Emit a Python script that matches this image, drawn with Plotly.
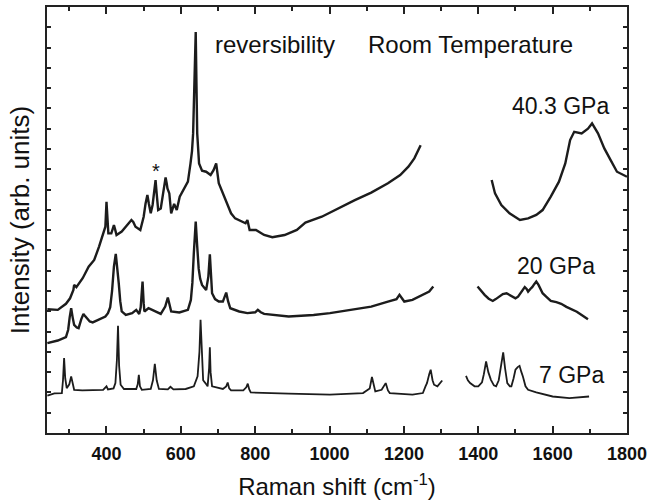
import plotly.graph_objects as go

# ---- 7 GPa spectrum (two segments) ----
x7a = [241, 260, 280, 283, 286, 289, 293, 300, 305, 309, 313, 335, 391, 400, 404, 419, 424, 428,
       431, 434, 438, 447, 480, 484, 487, 490, 495, 519, 525, 530, 535, 541, 565, 572, 580, 613,
       635, 645, 650, 653, 656, 660, 666, 672, 676, 678, 680, 684, 713, 722, 726, 730, 735, 768,
       776, 780, 784, 788, 890, 1001, 1090, 1108, 1114, 1119, 1123, 1140, 1151, 1157, 1162,
       1223, 1251, 1258, 1262, 1268, 1272, 1277, 1281, 1290, 1297, 1303]
y7a = [1.84, 1.95, 1.97, 2.60, 3.69, 2.70, 2.21, 2.40, 2.79, 2.40, 2.13, 2.10, 2.13, 2.30, 2.15,
       2.20, 2.46, 3.60, 5.28, 3.30, 2.38, 2.17, 2.17, 2.40, 2.87, 2.30, 2.13, 2.17, 2.60, 3.41,
       2.60, 2.17, 2.15, 2.28, 2.15, 2.17, 2.30, 2.80, 4.00, 5.58, 3.80, 2.60, 2.46, 2.30, 3.20,
       4.22, 3.00, 2.30, 2.17, 2.30, 2.49, 2.20, 2.10, 2.10, 2.25, 2.43, 2.15, 2.00, 1.94, 1.89,
       1.97, 2.20, 2.76, 2.25, 2.05, 2.13, 2.46, 2.10, 1.97, 1.89, 1.97, 2.30, 2.46, 2.90, 3.12,
       2.60, 2.38, 2.30, 2.45, 2.59]
x7b = [1367, 1372, 1378, 1390, 1400, 1410, 1415, 1421, 1427, 1434, 1442, 1448, 1455, 1461, 1467,
       1472, 1478, 1485, 1489, 1495, 1500, 1506, 1511, 1516, 1520, 1527, 1534, 1556, 1600, 1645,
       1678, 1698]
y7b = [2.82, 2.60, 2.46, 2.30, 2.30, 2.50, 2.90, 3.53, 3.00, 2.62, 2.35, 2.30, 2.60, 3.20, 3.97,
       3.20, 2.46, 2.30, 2.30, 2.70, 3.12, 3.25, 3.31, 3.00, 2.79, 2.30, 2.13, 2.00, 1.80, 1.72,
       1.76, 1.80]

# ---- 20 GPa spectrum ----
x20a = [241, 269, 291, 297, 301, 305, 309, 313, 320, 325, 332, 338, 343, 347, 355, 363, 375, 386,
        397, 404, 410, 415, 420, 425, 429, 433, 437, 441, 452, 469, 480, 488, 492, 497, 500, 502,
        513, 530, 546, 558, 565, 570, 574, 596, 619, 627, 631, 635, 640, 644, 648, 652, 657, 668,
        674, 678, 681, 684, 692, 702, 713, 718, 722, 727, 733, 757, 779, 800, 807, 815, 824, 890,
        957, 1001, 1057, 1112, 1157, 1180, 1188, 1195, 1201, 1223, 1245, 1268, 1279]
y20a = [4.43, 4.56, 4.73, 5.09, 5.70, 6.15, 5.70, 5.33, 5.20, 5.17, 5.60, 5.87, 5.75, 5.66, 5.50,
        5.45, 5.55, 5.66, 5.74, 5.91, 6.20, 7.00, 8.20, 8.83, 8.20, 7.38, 6.50, 5.99, 5.82, 5.91,
        6.07, 5.87, 6.20, 7.47, 6.40, 5.99, 6.15, 5.99, 5.87, 6.23, 6.68, 6.30, 5.99, 5.94, 6.07,
        6.56, 7.40, 8.90, 10.42, 9.20, 8.10, 7.60, 7.30, 7.05, 7.71, 8.81, 7.60, 6.89, 6.60, 6.48,
        6.48, 6.70, 6.92, 6.50, 6.15, 5.99, 5.91, 5.95, 6.07, 5.95, 5.87, 5.74, 5.82, 5.91, 6.07,
        6.23, 6.48, 6.60, 6.81, 6.60, 6.48, 6.56, 6.76, 6.97, 7.22]
x20b = [1398, 1405, 1417, 1428, 1439, 1447, 1456, 1466, 1476, 1488, 1500, 1507, 1513, 1519, 1525,
        1530, 1534, 1540, 1545, 1551, 1556, 1562, 1573, 1584, 1595, 1610, 1623, 1637, 1651, 1665,
        1678, 1688, 1695]
y20b = [7.22, 7.05, 6.81, 6.62, 6.51, 6.60, 6.73, 6.85, 6.89, 6.78, 6.64, 6.72, 6.86, 7.05, 7.19,
        7.10, 6.97, 7.10, 7.19, 7.35, 7.47, 7.30, 6.89, 6.70, 6.51, 6.45, 6.37, 6.22, 6.10, 5.98,
        5.82, 5.72, 5.61]

# ---- 40.3 GPa spectrum ----
x40a = [241, 269, 291, 302, 311, 313, 319, 336, 352, 367, 380, 391, 397, 400, 402, 405, 413, 417,
        420, 423, 427, 441, 452, 460, 467, 472, 478, 491, 500, 505, 510, 514, 519, 524, 528, 532,
        535, 539, 546, 553, 556, 559, 562, 564, 569, 574, 582, 589, 597, 606, 619, 626, 630, 633,
        636, 640, 642, 644, 649, 657, 668, 680, 688, 695, 702, 713, 722, 735, 746, 763, 774, 779,
        785, 802, 824, 846, 879, 912, 935, 979, 1023, 1068, 1112, 1157, 1190, 1212, 1228, 1245]
y40a = [6.10, 6.07, 6.37, 6.64, 7.05, 7.30, 7.19, 7.63, 8.20, 8.53, 9.19, 9.76, 10.17, 11.40,
        10.60, 9.84, 9.84, 10.10, 10.25, 10.05, 9.76, 9.93, 10.17, 10.40, 10.50, 10.40, 10.17,
        10.01, 10.66, 11.30, 11.73, 11.30, 10.83, 11.24, 11.90, 12.47, 11.80, 10.99, 11.07, 11.81,
        12.30, 12.60, 12.30, 12.06, 11.81, 10.83, 11.29, 10.99, 11.65, 11.98, 12.39, 13.29, 13.90,
        14.77, 16.60, 19.77, 17.20, 14.77, 13.29, 12.93, 12.88, 12.72, 12.96, 13.29, 12.31, 11.81,
        11.48, 10.83, 10.58, 10.42, 10.34, 10.50, 10.01, 10.01, 9.76, 9.65, 9.76, 10.01, 10.37,
        10.66, 11.07, 11.48, 11.85, 12.31, 12.72, 13.13, 13.54, 14.19]
x40b = [1436, 1445, 1462, 1484, 1512, 1534, 1556, 1573, 1595, 1617, 1634, 1647, 1658, 1678,
        1695, 1706, 1722, 1739, 1756, 1773, 1800]
y40b = [12.47, 11.81, 11.24, 10.83, 10.50, 10.58, 10.75, 10.99, 11.65, 12.39, 13.29, 14.44,
        14.85, 14.77, 15.00, 15.26, 14.77, 14.03, 13.45, 12.88, 12.63]

# ---- annotations ----
ann_text = ["reversibility", "Room Temperature", "40.3 GPa", "20 GPa", "7 GPa", "*"]
ann_x = [687, 1098, 1486, 1500, 1558, 532]
ann_y = [19.17, 19.17, 16.1, 8.25, 2.87, 12.94]

x_ticks = [400, 600, 800, 1000, 1200, 1400, 1600, 1800]

FONT = "Liberation Sans, Arial, sans-serif"
LC = "#1c1c1c"

fig = go.Figure()
for xs, ys, w in [(x7a, y7a, 1.8), (x7b, y7b, 1.8), (x20a, y20a, 2.4), (x20b, y20b, 2.4),
                  (x40a, y40a, 2.4), (x40b, y40b, 2.4)]:
    fig.add_trace(go.Scatter(x=xs, y=ys, mode="lines", line=dict(color=LC, width=w),
                             showlegend=False, hoverinfo="skip"))

for t, ax_, ay_ in zip(ann_text, ann_x, ann_y):
    big = t in ("reversibility", "Room Temperature")
    fig.add_annotation(x=ax_, y=ay_, text=t, showarrow=False,
                       xanchor="center" if t == "*" else "left", yanchor="middle",
                       font=dict(family=FONT, size=24 if big else (20 if t == "*" else 23),
                                 color="#111111"))

fig.update_layout(
    width=648, height=501,
    margin=dict(l=47, r=21, t=7, b=68),
    paper_bgcolor="white", plot_bgcolor="white",
    font=dict(family=FONT, color="#111111"),
    xaxis=dict(range=[240, 1800], tickvals=x_ticks, ticks="inside", ticklen=7, tickwidth=1.5,
               tickcolor="#222", showline=True, linecolor="#222", linewidth=2, mirror="ticks",
               showgrid=False, zeroline=False, ticklabelstandoff=3, automargin=False,
               tickfont=dict(family=FONT, size=18, weight="bold", color="#111"),
               minor=dict(dtick=100, tick0=0, ticks="inside", ticklen=4, tickwidth=1.5,
                          tickcolor="#222", showgrid=False),
               title=dict(text="Raman shift (cm<sup>-1</sup>)",
                          font=dict(family=FONT, size=24, color="#111"), standoff=16)),
    yaxis=dict(range=[0, 21], dtick=1, tick0=0, ticks="inside", ticklen=4, tickwidth=1.5,
               tickcolor="#222", showline=True, linecolor="#222", linewidth=2, mirror="ticks",
               showgrid=False, zeroline=False, showticklabels=False, automargin=False,
               title=dict(text="Intensity (arb. units)",
                          font=dict(family=FONT, size=26, color="#111"), standoff=8)),
)

fig.write_html("out.html", config={"displayModeBar": False},
               post_script="document.body.style.margin='0px';")
